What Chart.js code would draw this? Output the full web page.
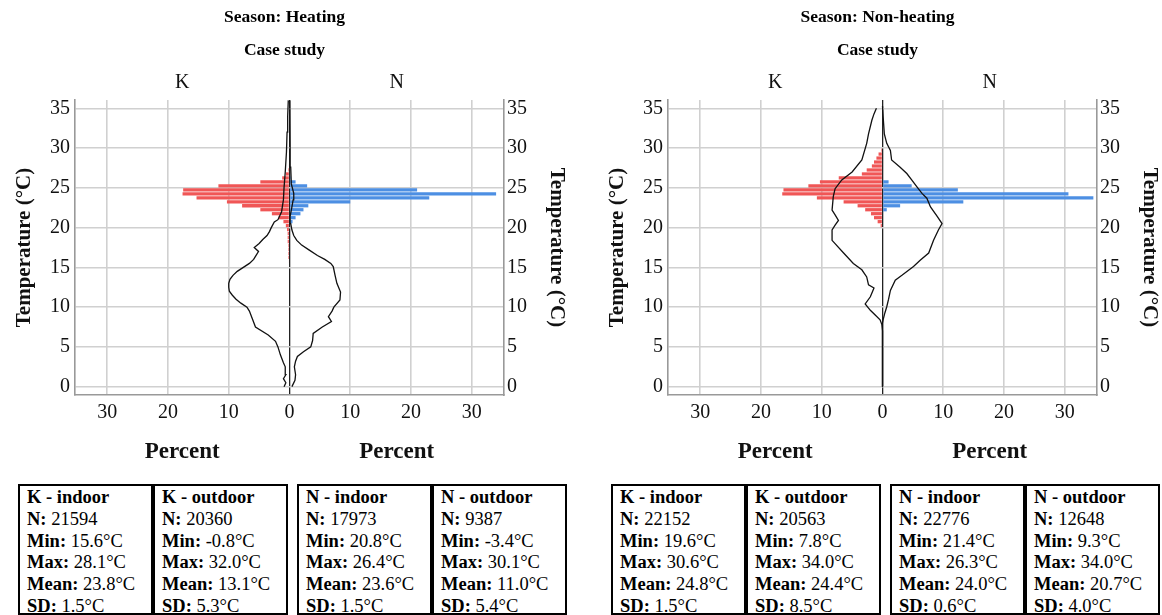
<!DOCTYPE html>
<html>
<head>
<meta charset="utf-8">
<script src="https://cdn.jsdelivr.net/npm/chart.js@4.4.1/dist/chart.umd.min.js"></script>
<style>
  body { margin: 0; background: #fff; width: 1162px; height: 615px; overflow: hidden; position: relative; font-family: "Liberation Serif", "Times New Roman", serif; }
  canvas { position: absolute; top: 0; }
  .box { position: absolute; top: 484px; width: 124px; height: 126px; border: 2px solid #000; padding: 1px 0 0 7px; font-size: 18.5px; line-height: 21.8px; color: #000; white-space: nowrap; }
</style>
</head>
<body>
<canvas id="heat" width="569" height="470" style="left:0"></canvas>
<canvas id="nonheat" width="569" height="470" style="left:593px"></canvas>
<script>
// histogram bins (°C, bin centres) and percent per bin
const bins = [15.75, 16.25, 16.75, 17.25, 17.75, 18.25, 18.75, 19.25, 19.75, 20.25, 20.75, 21.25, 21.75, 22.25, 22.75,
              23.25, 23.75, 24.25, 24.75, 25.25, 25.75, 26.25, 26.75, 27.25, 27.75, 28.25, 28.75, 29.25, 29.75];
const heatKIndoor = [0.1, 0.2, 0.2, 0.2, 0.2, 0.3, 0.3, 0.3, 0.4, 0.6, 1.0, 1.8, 2.9, 4.8, 7.8,
                     10.3, 15.3, 17.6, 17.5, 11.7, 4.8, 1.2, 0.6, 0.2, 0.1, 0, 0, 0, 0];
const heatNIndoor = [0, 0, 0, 0, 0, 0, 0, 0, 0, 0, 0.5, 1.0, 1.8, 2.3, 3.1,
                     10, 23, 34, 21, 2.9, 1.0, 0.2, 0, 0, 0, 0, 0, 0, 0];
const nonKIndoor = [0, 0, 0, 0, 0, 0, 0, 0, 0, 0.3, 0.8, 1.4, 1.9, 2.85, 4.1,
                    6.4, 10.8, 16.5, 16.3, 12.2, 10.3, 7.2, 3.4, 2.6, 1.75, 1.4, 1.0, 0.65, 0.2];
const nonNIndoor = [0, 0, 0, 0, 0, 0, 0, 0, 0, 0, 0, 0, 0, 0.7, 2.9,
                    13.3, 34.7, 30.6, 12.4, 4.8, 1.0, 0, 0, 0, 0, 0, 0, 0, 0];

// outdoor distribution outlines
const heatKOutTemp = [0.0, 0.5, 1.0, 1.5, 2.0, 2.5, 3.0, 4.0, 5.0, 5.7, 6.5, 7.5, 8.5, 9.5, 10.0, 10.5, 11.0, 11.5, 12.0, 12.5,
                      13.0, 13.5, 14.0, 14.5, 15.0, 15.5, 16.0, 16.5, 17.0, 17.5, 18.0, 18.5, 19.0, 19.5, 20.0, 20.7, 21.0, 22.0,
                      23.5, 25.0, 27.0, 29.5, 32.0, 34.0, 36.0];
const heatKOutPct = [0.9, 0.6, 1.0, 0.6, 0.7, 0.7, 1.0, 1.5, 1.9, 2.3, 3.5, 5.6, 6.1, 6.6, 7.0, 8.0, 8.8, 9.4, 9.9, 10.0,
                     10.0, 9.8, 9.3, 8.6, 7.6, 6.6, 5.9, 5.5, 5.1, 5.8, 5.0, 4.4, 3.7, 3.3, 3.0, 2.5, 1.9, 1.3,
                     1.0, 0.9, 0.7, 0.5, 0.4, 0.3, 0.2];
const heatNOutTemp = [0.0, 0.8, 1.5, 2.5, 3.2, 3.8, 4.4, 5.0, 5.8, 6.7, 7.5, 8.2, 8.8, 9.5, 10.0, 10.9, 11.9, 13.0, 14.0,
                      15.1, 15.5, 16.0, 16.5, 17.2, 17.8, 18.4, 19.0, 19.7, 20.5, 21.4, 22.6, 23.5, 24.3, 25.5, 27.6, 30.0, 36.0];
const heatNOutPct = [0.4, 0.9, 1.0, 0.8, 1.0, 1.3, 2.3, 3.5, 3.8, 3.9, 5.4, 6.9, 6.4, 7.0, 7.3, 8.3, 8.4, 7.8, 7.5,
                     7.2, 6.8, 5.8, 4.6, 3.2, 2.0, 1.2, 0.7, 0.4, 0.2, 0.1, 0.4, 0.6, 0.7, 0.3, 0.2, 0.1, 0.05];
const nonKOutTemp = [0, 7.0, 7.8, 8.4, 9.0, 9.6, 10.4, 11.3, 12.4, 12.8, 13.8, 14.7, 15.5, 16.8, 18.4, 19.7, 20.3, 20.9,
                     21.6, 22.2, 23.9, 24.9, 26.0, 27.0, 28.5, 30.6, 31.8, 33.5, 34.3, 35.0];
const nonKOutPct = [0, 0, 0.1, 0.4, 1.2, 2.0, 2.85, 2.0, 1.4, 2.3, 2.6, 3.4, 4.8, 6.4, 8.3, 8.3, 7.8, 7.25,
                    7.8, 8.3, 8.1, 7.8, 6.7, 5.0, 3.4, 2.6, 2.3, 1.75, 1.4, 1.0];
const nonNOutTemp = [0, 8.0, 8.4, 9.3, 10.05, 11.0, 12.1, 13.4, 14.0, 15.1, 15.9, 16.8, 18.4, 19.7, 20.5, 21.4, 22.6,
                     23.7, 24.3, 25.1, 26.0, 26.8, 27.6, 28.5, 29.7, 30.6, 31.8, 34.0, 35.3];
const nonNOutPct = [0, 0, 0.1, 0.4, 0.7, 1.0, 1.3, 2.1, 3.2, 5.1, 6.2, 7.6, 8.4, 9.2, 9.8, 9.0, 7.9,
                    7.3, 6.5, 5.7, 4.8, 4.0, 2.9, 1.5, 1.3, 0.7, 0.3, 0.1, 0];

const pctTicks = [-30, -20, -10, 0, 10, 20, 30];
const tempTicks = [0, 5, 10, 15, 20, 25, 30, 35];
const sideLabels = ['K', 'N'];

// summary boxes
const boxTitles = ['K - indoor', 'K - outdoor', 'N - indoor', 'N - outdoor'];
const heatN = [21594, 20360, 17973, 9387];
const heatMin = ['15.6', '-0.8', '20.8', '-3.4'];
const heatMax = ['28.1', '32.0', '26.4', '30.1'];
const heatMean = ['23.8', '13.1', '23.6', '11.0'];
const heatSD = ['1.5', '5.3', '1.5', '5.4'];
const nonN = [22152, 20563, 22776, 12648];
const nonMin = ['19.6', '7.8', '21.4', '9.3'];
const nonMax = ['30.6', '34.0', '26.3', '34.0'];
const nonMean = ['24.8', '24.4', '24.0', '20.7'];
const nonSD = ['1.5', '8.5', '0.6', '4.0'];

const serif = '"Liberation Serif", "Times New Roman", serif';
const XMAX = 35.3, YMIN = -1.05, YMAX = 36.05;
const RED = '#f05656', BLUE = '#4d8fe3';

function pts(temps, pcts, sign) {
  return temps.map((t, i) => ({ x: sign * pcts[i], y: t }));
}

function makeChart(id, title, kIn, nIn, kOut, nOut) {
  new Chart(document.getElementById(id), {
    type: 'bar',
    data: {
      datasets: [
        { type: 'line', data: kOut, borderColor: '#111', borderWidth: 1.3, pointRadius: 0, tension: 0,
          indexAxis: 'y', xAxisID: 'x', yAxisID: 'y', order: 0 },
        { type: 'line', data: nOut, borderColor: '#111', borderWidth: 1.3, pointRadius: 0, tension: 0,
          indexAxis: 'y', xAxisID: 'x', yAxisID: 'y', order: 0 },
        { data: bins.map((b, i) => ({ x: -kIn[i], y: b })), backgroundColor: RED, grouped: false,
          barPercentage: 0.82, categoryPercentage: 1, indexAxis: 'y', xAxisID: 'x', yAxisID: 'y', order: 1 },
        { data: bins.map((b, i) => ({ x: nIn[i], y: b })), backgroundColor: BLUE, grouped: false,
          barPercentage: 0.82, categoryPercentage: 1, indexAxis: 'y', xAxisID: 'x', yAxisID: 'y', order: 1 }
      ]
    },
    options: {
      responsive: false,
      animation: false,
      indexAxis: 'y',
      layout: { padding: 0 },
      plugins: {
        legend: { display: false },
        tooltip: { enabled: false },
        title: { display: true, text: title, color: '#000',
                 font: { family: serif, size: 17.5, weight: 'bold' }, padding: { top: 6.5, bottom: 8 } },
        subtitle: { display: true, text: 'Case study', color: '#000',
                    font: { family: serif, size: 17.5, weight: 'bold' }, padding: { top: 4, bottom: 8 } }
      },
      scales: {
        x: {
          type: 'linear', position: 'bottom', min: -XMAX, max: XMAX, weight: 0, offset: false,
          afterBuildTicks: s => { s.ticks = pctTicks.map(v => ({ value: v })); },
          afterFit: s => { s.height = 35; },
          ticks: { callback: v => Math.abs(v), color: '#111', padding: 6, maxRotation: 0,
                   font: { family: serif, size: 20 } },
          grid: { offset: false, drawTicks: false, color: c => (c.tick && c.tick.value === 0) ? '#222' : '#d0d0d0',
                  lineWidth: c => (c.tick && c.tick.value === 0) ? 1.3 : 1.6 },
          border: { display: true, color: '#999', width: 1.6 }
        },
        x3: {
          type: 'linear', position: 'bottom', min: -XMAX, max: XMAX, weight: 1,
          afterBuildTicks: s => { s.ticks = [{ value: -XMAX / 2 }, { value: XMAX / 2 }]; },
          afterFit: s => { s.height = 40; },
          ticks: { callback: () => 'Percent', color: '#111', padding: 8.2, maxRotation: 0,
                   font: { family: serif, size: 23, weight: 'bold' } },
          grid: { display: false, drawTicks: false },
          border: { display: false }
        },
        x2: {
          type: 'linear', position: 'top', min: -XMAX, max: XMAX,
          afterBuildTicks: s => { s.ticks = [{ value: -XMAX / 2 }, { value: XMAX / 2 }]; },
          afterFit: s => { s.height = 100 - 68.5; },
          ticks: { callback: (v, i) => sideLabels[i], color: '#111', padding: 5, maxRotation: 0,
                   font: { family: serif, size: 20 } },
          grid: { display: false, drawTicks: false },
          border: { display: false }
        },
        y: {
          type: 'linear', position: 'left', min: YMIN, max: YMAX, offset: false,
          afterBuildTicks: s => { s.ticks = tempTicks.map(v => ({ value: v })); },
          afterFit: s => { s.width = 75; },
          ticks: { color: '#111', padding: 5, font: { family: serif, size: 20 } },
          grid: { offset: false, drawTicks: false, color: '#d0d0d0', lineWidth: 1.6 },
          border: { display: true, color: '#999', width: 1.6 },
          title: { display: true, text: 'Temperature (°C)', color: '#111', padding: { top: 12, bottom: 0 },
                   font: { family: serif, size: 21, weight: 'bold' } }
        },
        y2: {
          type: 'linear', position: 'right', min: YMIN, max: YMAX, offset: false,
          afterBuildTicks: s => { s.ticks = tempTicks.map(v => ({ value: v })); },
          afterFit: s => { s.width = 65; },
          ticks: { color: '#111', padding: 3, font: { family: serif, size: 20 } },
          grid: { offset: false, display: false, drawTicks: false },
          border: { display: true, color: '#999', width: 1.6 },
          title: { display: true, text: 'Temperature (°C)', color: '#111', padding: { top: 0, bottom: 0 },
                   font: { family: serif, size: 21, weight: 'bold' } }
        }
      }
    }
  });
}

makeChart('heat', 'Season: Heating', heatKIndoor, heatNIndoor,
          pts(heatKOutTemp, heatKOutPct, -1), pts(heatNOutTemp, heatNOutPct, 1));
makeChart('nonheat', 'Season: Non-heating', nonKIndoor, nonNIndoor,
          pts(nonKOutTemp, nonKOutPct, -1), pts(nonNOutTemp, nonNOutPct, 1));

function addBoxes(lefts, n, mn, mx, mean, sd) {
  lefts.forEach((x, i) => {
    const d = document.createElement('div');
    d.className = 'box';
    d.style.left = x + 'px';
    d.innerHTML = '<b>' + boxTitles[i] + '</b><br>' +
      '<b>N:</b> ' + n[i] + '<br>' +
      '<b>Min:</b> ' + mn[i] + '°C<br>' +
      '<b>Max:</b> ' + mx[i] + '°C<br>' +
      '<b>Mean:</b> ' + mean[i] + '°C<br>' +
      '<b>SD:</b> ' + sd[i] + '°C';
    document.body.appendChild(d);
  });
}
addBoxes([18, 153, 297, 432], heatN, heatMin, heatMax, heatMean, heatSD);
addBoxes([611, 746, 890, 1025], nonN, nonMin, nonMax, nonMean, nonSD);
</script>
</body>
</html>
